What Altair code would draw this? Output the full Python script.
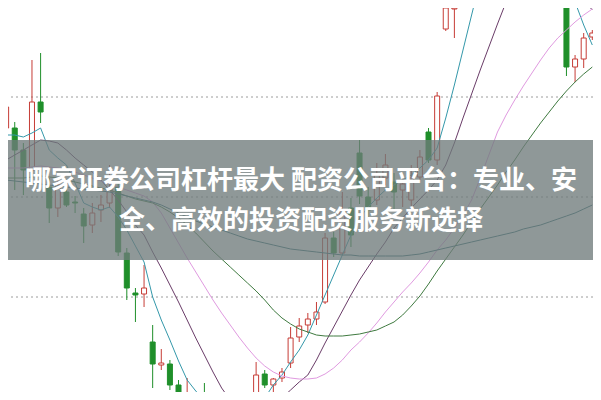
import altair as alt
import pandas as pd

# ---- candle data (price, yuan) ----
idx = list(range(69))
opens = [12.69, 12.69, 12.47, 12.27, 12.95, 12.10, 11.89, 12.05, 11.95, 11.83,
         11.72, 11.87, 11.94, 12.10, 11.44, 11.04, 11.03, 10.55, 10.32, 10.33,
         10.12, 9.92, 10.02, 9.95, 9.87, 9.77, 9.67, 9.72, 9.82, 10.00,
         10.23, 10.12, 10.19, 10.34, 10.60, 10.72, 10.78, 10.95, 11.59, 11.44,
         11.89, 12.44, 12.00, 11.97, 12.19, 12.15, 12.07, 11.97, 12.20, 12.65,
         12.37, 13.68, 13.88, 14.37, 14.37, 14.37, 14.57, 14.17, 14.47, 14.72,
         14.57, 14.77, 14.62, 14.82, 14.57, 14.27, 13.30, 13.38, 13.60]
closes = [12.90, 12.47, 12.27, 12.95, 12.85, 11.89, 12.12, 11.92, 11.94, 11.71,
          11.84, 11.92, 12.09, 11.45, 11.09, 11.02, 11.09, 10.33, 10.34, 10.12,
          9.92, 10.01, 9.92, 9.89, 9.77, 9.67, 9.72, 9.82, 9.92, 10.22,
          10.12, 10.18, 10.25, 10.59, 10.71, 10.78, 10.85, 11.59, 11.44, 11.87,
          11.62, 12.01, 11.87, 12.22, 12.32, 12.05, 12.13, 12.19, 12.40, 12.37,
          13.01, 13.89, 13.89, 14.17, 14.12, 14.57, 14.77, 14.47, 14.72, 14.57,
          14.77, 14.62, 14.82, 14.57, 14.27, 13.30, 13.38, 13.59, 13.64]
highs = [12.94, 12.75, 12.54, 13.37, 13.44, 12.19, 12.17, 12.09, 12.01, 11.89,
         11.94, 12.02, 12.32, 12.15, 11.49, 11.09, 11.32, 10.72, 10.48, 10.37,
         10.17, 10.19, 10.05, 10.14, 9.92, 9.85, 9.79, 9.87, 9.95, 10.35,
         10.27, 10.19, 10.29, 10.70, 10.79, 10.84, 10.95, 11.64, 11.65, 12.05,
         11.99, 12.57, 12.10, 12.34, 12.43, 12.24, 12.21, 12.32, 12.47, 12.69,
         13.05, 13.95, 13.89, 14.47, 14.47, 14.67, 14.92, 14.57, 14.82, 14.87,
         14.92, 14.97, 14.92, 14.97, 14.67, 14.37, 13.42, 13.64, 13.67]
lows = [12.67, 12.07, 12.02, 12.25, 12.74, 11.74, 11.80, 11.90, 11.84, 11.54,
        11.64, 11.75, 11.89, 11.41, 10.97, 10.75, 10.90, 10.09, 10.27, 10.07,
        9.85, 9.87, 9.85, 9.82, 9.72, 9.59, 9.57, 9.65, 9.77, 9.97,
        10.09, 10.02, 10.15, 10.29, 10.55, 10.64, 10.72, 10.93, 11.40, 11.42,
        11.50, 11.93, 11.80, 11.92, 12.12, 11.87, 11.90, 11.91, 12.17, 12.34,
        12.32, 13.66, 13.59, 14.07, 13.92, 14.27, 14.47, 13.94, 14.37, 14.47,
        14.47, 14.52, 14.52, 14.47, 14.17, 13.21, 13.15, 13.29, 13.57]

# ---- moving averages ----
ma5 = [12.62, 12.62, 12.60, 12.64, 12.69, 12.47, 12.39, 12.32, 12.14, 11.94,
       11.90, 11.87, 11.90, 11.80, 11.67, 11.51, 11.35, 11.00, 10.77, 10.57,
       10.36, 10.17, 10.06, 9.97, 9.87, 9.79, 9.75, 9.77, 9.85, 9.92,
       9.99, 10.12, 10.22, 10.35, 10.47, 10.62, 10.82, 11.02, 11.22, 11.42,
       11.62, 11.79, 11.90, 11.99, 12.07, 12.12, 12.17, 12.22, 12.29, 12.37,
       12.49, 12.79, 13.12, 13.47, 13.82, 14.17, 14.47, 14.67, 14.77, 14.87,
       14.87, 14.87, 14.82, 14.67, 14.47, 14.22, 13.95, 13.72, 13.52]
ma10 = [12.37, 12.42, 12.47, 12.52, 12.57, 12.56, 12.54, 12.47, 12.39, 12.32,
        12.25, 12.17, 12.07, 11.97, 11.85, 11.72, 11.62, 11.45, 11.29, 11.12,
        10.95, 10.77, 10.59, 10.42, 10.25, 10.09, 9.97, 9.87, 9.82, 9.82,
        9.85, 9.92, 9.99, 10.07, 10.15, 10.22, 10.37, 10.54, 10.70, 10.86,
        11.02, 11.17, 11.30, 11.43, 11.55, 11.69, 11.79, 11.89, 11.98, 12.07,
        12.17, 12.32, 12.54, 12.79, 13.03, 13.27, 13.50, 13.73, 13.95, 14.17,
        14.37, 14.52, 14.59, 14.59, 14.52, 14.37, 14.17, 13.97, 13.87]
ma20 = [12.29, 12.29, 12.29, 12.30, 12.31, 12.30, 12.29, 12.27, 12.25, 12.22,
        12.19, 12.16, 12.13, 12.10, 12.07, 12.04, 12.01, 11.95, 11.84, 11.69,
        11.54, 11.39, 11.25, 11.11, 10.97, 10.84, 10.72, 10.60, 10.49, 10.39,
        10.31, 10.25, 10.21, 10.19, 10.18, 10.18, 10.19, 10.23, 10.29, 10.37,
        10.47, 10.55, 10.64, 10.74, 10.85, 10.95, 11.05, 11.14, 11.24, 11.35,
        11.47, 11.57, 11.69, 11.82, 11.97, 12.19, 12.42, 12.65, 12.82, 12.97,
        13.11, 13.24, 13.37, 13.49, 13.59, 13.67, 13.75, 13.82, 13.88]
ma30 = [12.19, 12.19, 12.19, 12.20, 12.21, 12.20, 12.19, 12.17, 12.15, 12.13,
        12.11, 12.09, 12.07, 12.04, 12.01, 11.98, 11.96, 11.94, 11.90, 11.85,
        11.79, 11.72, 11.64, 11.55, 11.46, 11.38, 11.30, 11.22, 11.14, 11.06,
        10.97, 10.87, 10.79, 10.73, 10.68, 10.65, 10.62, 10.61, 10.61, 10.61,
        10.62, 10.63, 10.65, 10.67, 10.71, 10.75, 10.82, 10.91, 11.01, 11.13,
        11.26, 11.38, 11.50, 11.62, 11.75, 11.88, 12.00, 12.12, 12.25, 12.37,
        12.50, 12.62, 12.74, 12.85, 12.96, 13.06, 13.15, 13.23, 13.30]
ma60 = [12.17, 12.16, 12.15, 12.14, 12.13, 12.12, 12.11, 12.10, 12.09, 12.08,
        12.07, 12.06, 12.05, 12.03, 12.01, 11.99, 11.97, 11.95, 11.92, 11.88,
        11.84, 11.80, 11.76, 11.73, 11.70, 11.67, 11.64, 11.61, 11.58, 11.56,
        11.54, 11.52, 11.50, 11.48, 11.47, 11.46, 11.45, 11.44, 11.43, 11.42,
        11.42, 11.41, 11.41, 11.41, 11.41, 11.41, 11.41, 11.42, 11.43, 11.45,
        11.47, 11.49, 11.51, 11.53, 11.55, 11.57, 11.59, 11.61, 11.63, 11.65,
        11.68, 11.70, 11.72, 11.75, 11.78, 11.81, 11.84, 11.88, 11.92]
ma_names = ["MA5", "MA10", "MA20", "MA30", "MA60"]
ma_colors = ["#3498aa", "#6a3c68", "#e09ae0", "#3f7a40", "#2f6e76"]

grid_prices = [10, 11, 12, 13]
title_lines = ["哪家证券公司杠杆最大 配资公司平台：专业、安", "全、高效的投资配资服务新选择"]

RED = "#c63c36"
GREEN = "#1f8f2a"

candles = pd.DataFrame({"i": idx, "open": opens, "close": closes,
                        "high": highs, "low": lows})
ma_df = pd.concat([
    pd.DataFrame({"i": idx, "value": vals, "ma": name})
    for name, vals in zip(ma_names, [ma5, ma10, ma20, ma30, ma60])
])
grid_df = pd.DataFrame({"p": grid_prices})
text_df = pd.DataFrame({"line": title_lines, "n": [0, 1]})
one_df = pd.DataFrame({"k": [0]})

W, H = 585, 384
xs = alt.Scale(domain=[0.798, 67.5], nice=False, zero=False)
ys = alt.Scale(domain=[10.05, 13.89], nice=False, zero=False)

up = "datum.close >= datum.open"

grid = alt.Chart(grid_df).mark_rule(
    color="#9c9c9c", strokeDash=[2, 3], strokeWidth=1, clip=True
).encode(y=alt.Y("p:Q", scale=ys, axis=None))

wicks = alt.Chart(candles).mark_rule(strokeWidth=1, clip=True).encode(
    x=alt.X("i:Q", scale=xs, axis=None),
    y=alt.Y("low:Q", scale=ys, axis=None),
    y2="high:Q",
    color=alt.condition(up, alt.value(RED), alt.value(GREEN)),
)

bodies = alt.Chart(candles).mark_bar(size=5, strokeWidth=1, clip=True).encode(
    x=alt.X("i:Q", scale=xs, axis=None),
    y=alt.Y("open:Q", scale=ys, axis=None),
    y2="close:Q",
    fill=alt.condition(up, alt.value("#ffffff"), alt.value(GREEN)),
    stroke=alt.condition(up, alt.value(RED), alt.value(GREEN)),
)

lines = alt.Chart(ma_df).mark_line(strokeWidth=1, clip=True).encode(
    x=alt.X("i:Q", scale=xs, axis=None),
    y=alt.Y("value:Q", scale=ys, axis=None),
    color=alt.Color("ma:N", scale=alt.Scale(domain=ma_names, range=ma_colors),
                    legend=None),
    detail="ma:N",
)

banner = alt.Chart(one_df).mark_rect(fill="#6f7b7b", fillOpacity=0.78,
                                     strokeWidth=0).encode(
    x=alt.value(0), x2=alt.value(W), y=alt.value(132), y2=alt.value(252)
)

text = alt.Chart(text_df).mark_text(
    font="Noto Sans CJK SC", fontSize=26, fontWeight="bold", color="#ffffff",
    align="center", baseline="middle"
).encode(
    x=alt.value(293),
    y=alt.Y("n:Q", scale=alt.Scale(domain=[0, 1], range=[173, 213]), axis=None),
    text="line:N",
)

chart = alt.layer(grid, wicks, bodies, lines, banner, text).resolve_scale(
    y="independent"
).properties(
    width=W, height=H, padding=0, background="#ffffff"
).configure_view(stroke=None)

chart.save("out.html", embed_options={"renderer": "svg", "actions": False})
